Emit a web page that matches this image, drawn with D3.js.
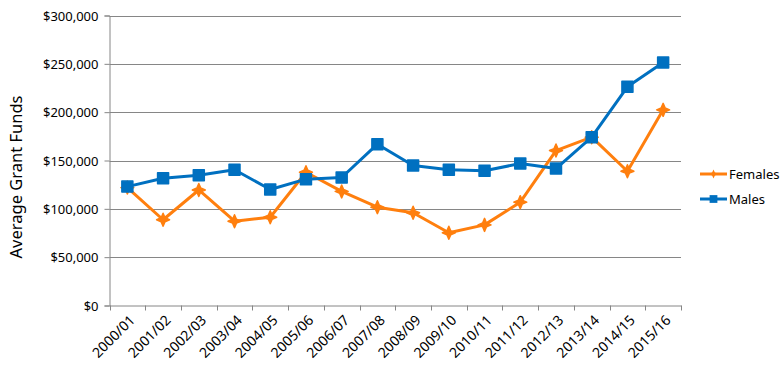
<!DOCTYPE html>
<html>
<head>
<meta charset="utf-8">
<script src="https://cdn.jsdelivr.net/npm/d3@7"></script>
<style>
  body { margin: 0; background: #fff; }
  text { font-family: "Noto Sans", "Liberation Sans", sans-serif; fill: #000; }
</style>
</head>
<body>
<div id="chart"></div>
<script>
const years = ['2000/01', '2001/02', '2002/03', '2003/04', '2004/05', '2005/06', '2006/07', '2007/08',
  '2008/09', '2009/10', '2010/11', '2011/12', '2012/13', '2013/14', '2014/15', '2015/16'];
const females = [122000, 88700, 119500, 87200, 91300, 137900, 118000, 101700,
  95900, 75200, 83400, 106900, 160300, 174100, 138900, 202400];
const males = [123000, 131700, 134800, 140400, 120000, 130700, 132400, 166900,
  144800, 140400, 139300, 146900, 141700, 174100, 226200, 251400];
const yTicks = [0, 50000, 100000, 150000, 200000, 250000, 300000];

const w = 783;
const h = 384;
const plotLeft = 109.5, plotRight = 681, plotTop = 15.5, plotBottom = 305.5;

const svg = d3.select('#chart')
  .append('svg')
  .attr('width', w)
  .attr('height', h);

const x = d3.scaleBand().domain(years).range([plotLeft, plotRight]);
const y = d3.scaleLinear().domain([0, 300000]).range([plotBottom, plotTop]);

// gridlines
svg.append('g')
  .selectAll('line')
  .data(yTicks.slice(1))
  .enter()
  .append('line')
  .attr('x1', plotLeft).attr('x2', plotRight)
  .attr('y1', d => Math.round(y(d)) + 0.5).attr('y2', d => Math.round(y(d)) + 0.5)
  .attr('stroke', '#868686');

const fmt = d => '$' + d3.format(',')(d);

const yAxis = svg.append('g')
  .attr('transform', 'translate(' + plotLeft + ',0)')
  .call(d3.axisLeft(y).tickValues(yTicks).tickFormat(fmt).tickSize(5).tickPadding(6));
yAxis.selectAll('text').style('font-size', '13px').attr('dy', '0.35em');

const xAxis = svg.append('g')
  .attr('transform', 'translate(0,' + plotBottom + ')')
  .call(d3.axisBottom(x).tickSize(0).tickFormat(''));

// tick marks at band edges
const edges = years.map(d => x(d)).concat([plotRight]);
svg.append('g')
  .selectAll('line')
  .data(edges)
  .enter()
  .append('line')
  .attr('x1', d => Math.round(d) + 0.5).attr('x2', d => Math.round(d) + 0.5)
  .attr('y1', plotBottom).attr('y2', plotBottom + 5)
  .attr('stroke', '#868686');

svg.selectAll('.domain').attr('stroke', '#868686');
svg.selectAll('.tick line').attr('stroke', '#868686');

// rotated x labels
svg.append('g')
  .selectAll('text')
  .data(years)
  .enter()
  .append('text')
  .attr('transform', d => 'translate(' + (x(d) + x.bandwidth() / 2 + 5) + ',' + (plotBottom + 12) + ') rotate(-45)')
  .attr('text-anchor', 'end')
  .attr('dy', '0.35em')
  .style('font-size', '14px')
  .text(d => d);

// y title
svg.append('text')
  .attr('transform', 'translate(16,177) rotate(-90)')
  .attr('text-anchor', 'middle')
  .attr('dy', '0.35em')
  .style('font-size', '16.5px')
  .text('Average Grant Funds');

// four point star, like the Excel diamond marker on a thick line
const star4 = {
  draw(ctx, size) {
    const r = Math.sqrt(size) * 0.75;
    const k = r * 0.3;
    ctx.moveTo(0, -r);
    ctx.lineTo(k, -k);
    ctx.lineTo(r, 0);
    ctx.lineTo(k, k);
    ctx.lineTo(0, r);
    ctx.lineTo(-k, k);
    ctx.lineTo(-r, 0);
    ctx.lineTo(-k, -k);
    ctx.closePath();
  }
};

const series = [
  { name: 'Females', values: females, color: '#FF7F0E', symbol: star4, size: 75 },
  { name: 'Males', values: males, color: '#0070C0', symbol: d3.symbolSquare, size: 121 }
];

const line = d3.line()
  .x((d, i) => x(years[i]) + x.bandwidth() / 2)
  .y(d => y(d));

series.forEach(s => {
  svg.append('path')
    .attr('d', line(s.values))
    .attr('fill', 'none')
    .attr('stroke', s.color)
    .attr('stroke-width', 3)
    .attr('stroke-linejoin', 'round');

  svg.append('g')
    .selectAll('path')
    .data(s.values)
    .enter()
    .append('path')
    .attr('transform', (d, i) => 'translate(' + (x(years[i]) + x.bandwidth() / 2) + ',' + y(d) + ')')
    .attr('d', d3.symbol().type(s.symbol).size(s.size))
    .attr('fill', s.color)
    .attr('stroke', s.color)
    .attr('stroke-width', 1.5)
    .attr('stroke-linejoin', 'round');
});

// legend
const legend = svg.append('g')
  .selectAll('g')
  .data(series)
  .enter()
  .append('g')
  .attr('transform', (d, i) => 'translate(700,' + (174 + i * 25) + ')');

legend.append('line')
  .attr('x1', 0).attr('x2', 27)
  .attr('stroke', d => d.color)
  .attr('stroke-width', 3);

legend.append('path')
  .attr('transform', 'translate(13.5,0)')
  .attr('d', d => d3.symbol().type(d.symbol).size(d.size * 0.5)())
  .attr('fill', d => d.color);

legend.append('text')
  .attr('x', 29)
  .attr('dy', '0.35em')
  .style('font-size', '13px')
  .text(d => d.name);
</script>
</body>
</html>
